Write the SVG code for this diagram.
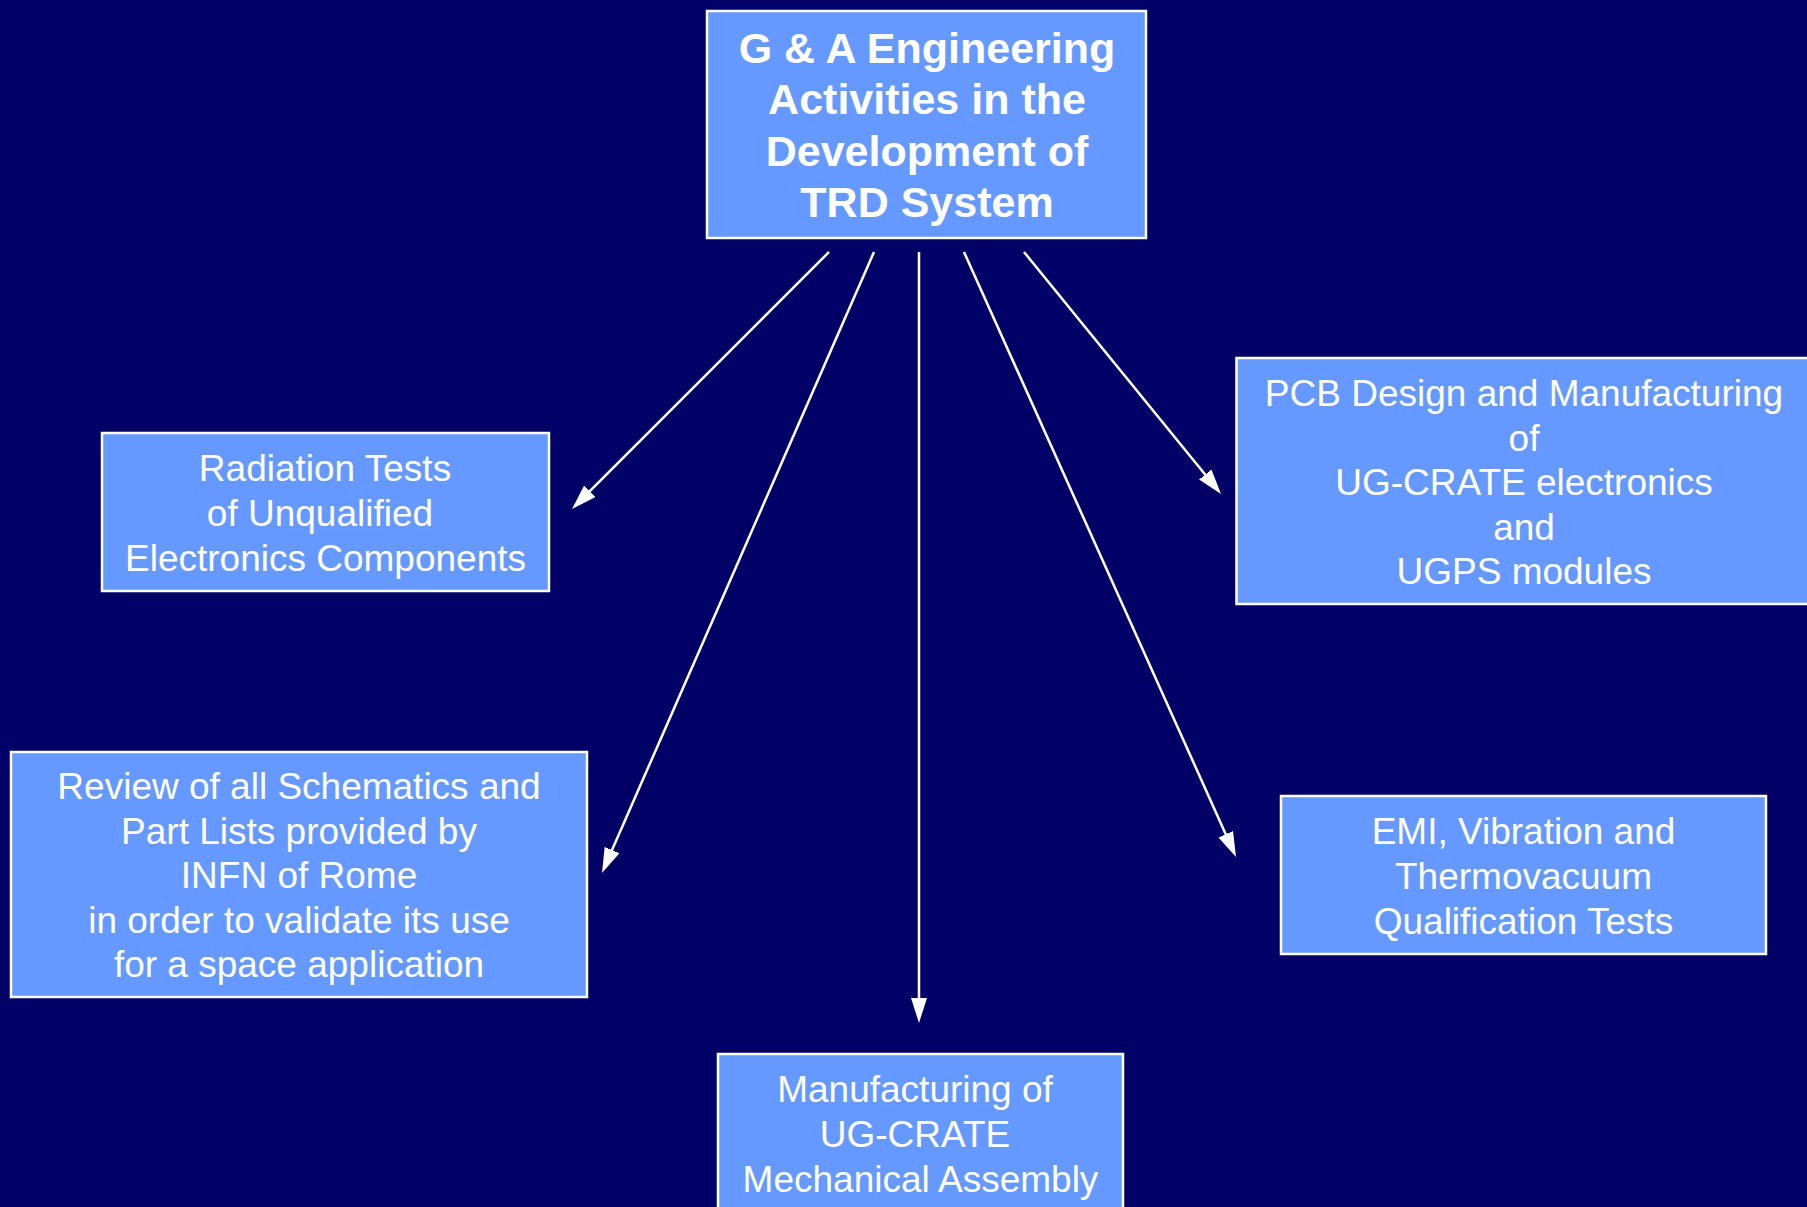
<svg xmlns="http://www.w3.org/2000/svg" width="1807" height="1207" viewBox="0 0 1807 1207">
  <defs>
    <style>
      .box { fill: #6699FF; stroke: #FFFFFF; stroke-width: 2.5; }
      .t { font-family: "Liberation Sans", Arial, sans-serif; font-size: 37px; fill: #FFFFFF; text-anchor: middle; }
      .tb { font-family: "Liberation Sans", Arial, sans-serif; font-size: 43px; font-weight: bold; fill: #FFFFFF; text-anchor: middle; }
      .conn { stroke: #FFFFFF; stroke-width: 2.5; fill: none; marker-end: url(#arrow); }
    </style>
    <marker id="arrow" markerUnits="userSpaceOnUse" markerWidth="26" markerHeight="16" refX="15" refY="8" orient="auto" viewBox="0 0 26 16">
      <path d="M0,0 L25,8 L0,16 z" fill="#FFFFFF"/>
    </marker>
  </defs>
  <rect x="0" y="0" width="1807" height="1207" fill="#000066"/>

  <g id="connectors">
    <line class="conn" x1="829" y1="252" x2="579.1" y2="501.9"/>
    <line class="conn" x1="874" y1="252" x2="606" y2="863.8"/>
    <line class="conn" x1="919" y1="252" x2="919" y2="1013"/>
    <line class="conn" x1="964" y1="252" x2="1231.9" y2="847.9"/>
    <line class="conn" x1="1024" y1="252" x2="1214.7" y2="486.2"/>
  </g>

  <g id="node-main">
    <rect class="box" x="707" y="11" width="439" height="227"/>
    <text class="tb" x="927" y="63">G &amp; A Engineering</text>
    <text class="tb" x="927" y="114">Activities in the</text>
    <text class="tb" x="927" y="166">Development of</text>
    <text class="tb" x="927" y="217">TRD System</text>
  </g>

  <g id="node-radiation">
    <rect class="box" x="102" y="433" width="447" height="158"/>
    <text class="t" x="325" y="481">Radiation Tests</text>
    <text class="t" x="320" y="526">of Unqualified</text>
    <text class="t" x="325.5" y="571">Electronics Components</text>
  </g>

  <g id="node-review">
    <rect class="box" x="11" y="752" width="576" height="245"/>
    <text class="t" x="299" y="799">Review of all Schematics and</text>
    <text class="t" x="299" y="843.5">Part Lists provided by</text>
    <text class="t" x="299" y="888">INFN of Rome</text>
    <text class="t" x="299" y="932.5">in order to validate its use</text>
    <text class="t" x="299" y="977">for a space application</text>
  </g>

  <g id="node-pcb">
    <rect class="box" x="1236.5" y="358" width="575" height="246"/>
    <text class="t" x="1524" y="406">PCB Design and Manufacturing</text>
    <text class="t" x="1524" y="450.5">of</text>
    <text class="t" x="1524" y="495">UG-CRATE electronics</text>
    <text class="t" x="1524" y="539.5">and</text>
    <text class="t" x="1524" y="584">UGPS modules</text>
  </g>

  <g id="node-emi">
    <rect class="box" x="1281" y="796" width="485" height="158"/>
    <text class="t" x="1523.5" y="844">EMI, Vibration and</text>
    <text class="t" x="1523.5" y="889">Thermovacuum</text>
    <text class="t" x="1523.5" y="934">Qualification Tests</text>
  </g>

  <g id="node-manufacturing">
    <rect class="box" x="718" y="1054" width="405" height="160"/>
    <text class="t" x="915" y="1102">Manufacturing of</text>
    <text class="t" x="915" y="1147">UG-CRATE</text>
    <text class="t" x="920.5" y="1192">Mechanical Assembly</text>
  </g>
</svg>
